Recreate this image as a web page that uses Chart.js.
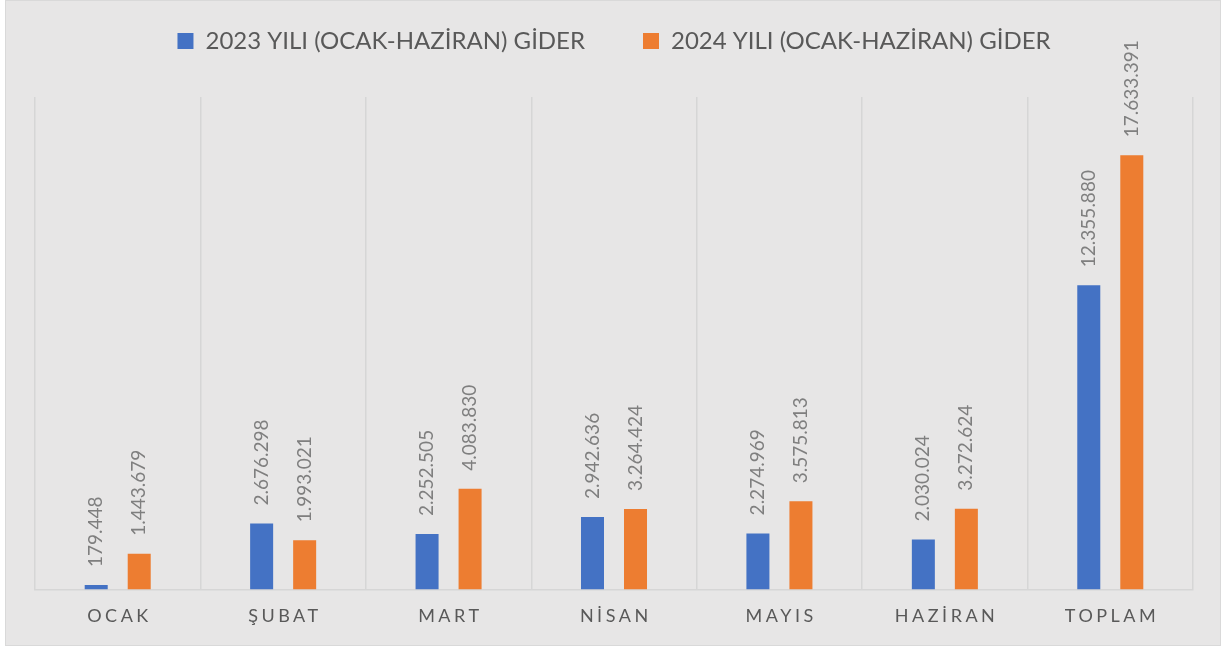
<!DOCTYPE html>
<html>
<head>
<meta charset="utf-8">
<script src="https://cdn.jsdelivr.net/npm/chart.js@4.4.1/dist/chart.umd.min.js"></script>
<style>
  html, body { margin: 0; padding: 0; background: #ffffff; }
  #wrap { position: absolute; left: 5px; top: 0; width: 1214px; height: 644px;
          border: 1px solid #d9d9d9; background: #e7e6e6; }
  #c { display: block; }
</style>
</head>
<body>
<div id="wrap"><canvas id="c"></canvas></div>
<script>
const categories = ['OCAK', 'ŞUBAT', 'MART', 'NİSAN', 'MAYIS', 'HAZİRAN', 'TOPLAM'];
const seriesNames = ['2023 YILI (OCAK-HAZİRAN) GİDER', '2024 YILI (OCAK-HAZİRAN) GİDER'];
const values2023 = [179448, 2676298, 2252505, 2942636, 2274969, 2030024, 12355880];
const values2024 = [1443679, 1993021, 4083830, 3264424, 3575813, 3272624, 17633391];
const colors = ['#4472c4', '#ed7d31'];
const yMax = 20000000;

const FONT = 'Lato, "Open Sans", sans-serif';

function fmt(v) {
  return String(v).replace(/\B(?=(\d{3})+(?!\d))/g, '.');
}

const dataLabels = {
  id: 'dataLabels',
  afterDatasetsDraw(chart) {
    const ctx = chart.ctx;
    ctx.save();
    ctx.font = '19px ' + FONT;
    ctx.fillStyle = '#7f7f7f';
    ctx.textAlign = 'left';
    ctx.textBaseline = 'middle';
    chart.data.datasets.forEach((ds, i) => {
      chart.getDatasetMeta(i).data.forEach((bar, j) => {
        ctx.save();
        ctx.translate(bar.x, bar.y - 18);
        ctx.rotate(-Math.PI / 2);
        ctx.fillText(fmt(ds.data[j]), 0, 0);
        ctx.restore();
      });
    });
    ctx.restore();
  }
};

const tickSpacing = {
  id: 'tickSpacing',
  beforeDraw(chart) {
    const s = chart.scales.x;
    if (s && !s._spaced) {
      const orig = s.drawLabels;
      s.drawLabels = function (area) {
        const ctx = this.ctx;
        ctx.save();
        ctx.letterSpacing = '3.5px';
        ctx.translate(1.75, 0);
        orig.call(this, area);
        ctx.restore();
      };
      s._spaced = true;
    }
  }
};

new Chart(document.getElementById('c'), {
  type: 'bar',
  data: {
    labels: categories,
    datasets: [
      { label: seriesNames[0], data: values2023, backgroundColor: colors[0] },
      { label: seriesNames[1], data: values2024, backgroundColor: colors[1] }
    ]
  },
  options: {
    responsive: true,
    maintainAspectRatio: false,
    animation: false,
    layout: { padding: { top: -30, left: 29, right: 27, bottom: 2 } },
    datasets: { bar: { categoryPercentage: 0.52, barPercentage: 0.535 } },
    plugins: {
      legend: {
        position: 'top',
        labels: {
          boxWidth: 16, boxHeight: 16, padding: 58,
          color: '#595959',
          font: { family: FONT, size: 24 }
        }
      },
      title: {
        display: true, text: '', position: 'top', weight: 500,
        font: { size: 10, lineHeight: 1 },
        padding: { top: 0, bottom: 24 }
      },
      tooltip: { enabled: false }
    },
    scales: {
      x: {
        grid: { display: true, offset: true, color: '#d6d6d6', lineWidth: 1.5, drawTicks: false },
        border: { display: true, color: '#d6d6d6', width: 1.5 },
        ticks: { color: '#595959', font: { family: FONT, size: 18 }, padding: 16 }
      },
      y: {
        display: false,
        min: 0, max: yMax,
        grid: { display: false }
      }
    }
  },
  plugins: [dataLabels, tickSpacing]
});
</script>
</body>
</html>
